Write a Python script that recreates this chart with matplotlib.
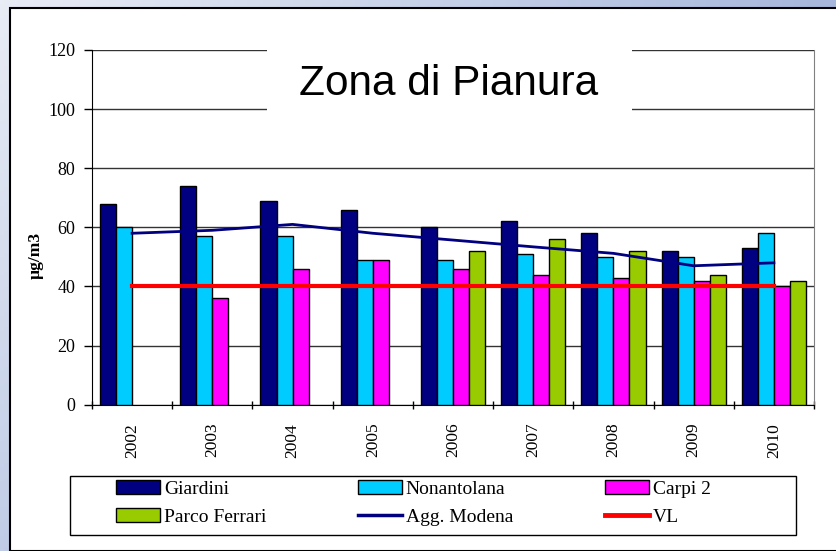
import numpy as np
import matplotlib
matplotlib.use("Agg")
import matplotlib.pyplot as plt
import matplotlib.patches as mpatches
from matplotlib.lines import Line2D

years = ["2002", "2003", "2004", "2005", "2006", "2007", "2008", "2009", "2010"]
giardini = [68, 74, 69, 66, 60, 62, 58, 52, 53]
nonantolana = [60, 57, 57, 49, 49, 51, 50, 50, 58]
carpi2 = [np.nan, 36, 46, 49, 46, 44, 43, 42, 40]
parco_ferrari = [np.nan, np.nan, np.nan, np.nan, 52, 56, 52, 44, 42]
agg_modena = [58, 59, 61, 58, 55.7, 53.4, 51.2, 47, 48]
vl = [40, 40, 40, 40, 40, 40, 40, 40, 40]

W, H = 836, 551
fig = plt.figure(figsize=(W / 100, H / 100), dpi=100)

# sfondo sfumato azzurro
bg = fig.add_axes([0, 0, 1, 1], zorder=-10)
gx, gy = np.meshgrid(np.linspace(0, 1, 200), np.linspace(0, 1, 150))
tl = np.array([232, 236, 245]); tr = np.array([166, 182, 220])
bl = np.array([192, 204, 230]); br = np.array([150, 166, 212])
img = ((1 - gx)[..., None] * ((1 - gy)[..., None] * tl + gy[..., None] * bl)
       + gx[..., None] * ((1 - gy)[..., None] * tr + gy[..., None] * br)) / 255.0
bg.imshow(img, aspect="auto", extent=[0, 1, 1, 0])
bg.set_xlim(0, 1); bg.set_ylim(1, 0)
bg.axis("off")
# pannello bianco
fig.patches.append(mpatches.Rectangle((10 / W, 0), 1, 1 - 8 / H, transform=fig.transFigure,
                                      facecolor="white", edgecolor="black", lw=1.5, zorder=-5))

ax = fig.add_axes([92 / W, (H - 404.7) / H, (814 - 92) / W, (404.7 - 50) / H])
ax.set_facecolor("none")
x = np.arange(len(years))
w = 0.2
series = [(giardini, "#000080", "Giardini"), (nonantolana, "#00ccff", "Nonantolana"),
          (carpi2, "#ff00ff", "Carpi 2"), (parco_ferrari, "#99cc00", "Parco Ferrari")]
for k, (vals, col, lab) in enumerate(series):
    ax.bar(x + (k - 1.5) * w, vals, w, color=col, edgecolor="black", lw=1, zorder=3, label=lab)

ax.plot(x, agg_modena, color="#000080", lw=2, zorder=4)
ax.plot(x, vl, color="#ff0000", lw=3, zorder=5)

ax.set_xlim(-0.5, len(years) - 0.5)
ax.set_ylim(0, 120)
ax.set_yticks(range(0, 121, 20))
ax.yaxis.grid(True, color="#333333", lw=1)
ax.set_axisbelow(True)
ax.set_xticks(x)
ax.set_xticklabels(years, rotation=90, fontfamily="Liberation Serif", fontsize=12.5)
ax.set_xticks(np.arange(-0.5, len(years)), minor=True)
ax.tick_params(axis="x", which="major", length=0, pad=13)
ax.tick_params(axis="x", which="minor", length=6, direction="inout", width=1)
ax.tick_params(axis="y", length=6, direction="out", width=1, pad=6)
for t in ax.get_yticklabels():
    t.set_fontfamily("Liberation Serif")
    t.set_fontsize(13)
ax.spines["top"].set_visible(False)
ax.spines["right"].set_color("#808080")
ax.spines["left"].set_color("black")
ax.spines["bottom"].set_color("black")

fig.text(36 / W, 1 - 255 / H, "µg/m3", rotation=90, ha="center", va="center",
         fontfamily="Liberation Serif", fontweight="bold", fontsize=12.5)

# titolo con riquadro bianco sopra la griglia
fig.patches.append(mpatches.Rectangle((267 / W, 1 - 113 / H), (632 - 267) / W, 73 / H,
                                      transform=fig.transFigure, facecolor="white",
                                      edgecolor="none", zorder=5))
fig.text(449 / W, 1 - 84 / H, "Zona di Pianura", ha="center", va="center",
         fontfamily="Liberation Sans", fontsize=30.5, zorder=6)

# riquadro legenda
fig.patches.append(mpatches.Rectangle((70 / W, 1 - 535 / H), (796 - 70) / W, (535 - 476) / H,
                                      transform=fig.transFigure, facecolor="white",
                                      edgecolor="black", lw=1, zorder=1))
handles = [
    mpatches.Patch(facecolor="#000080", edgecolor="black", label="Giardini"),
    mpatches.Patch(facecolor="#99cc00", edgecolor="black", label="Parco Ferrari"),
    mpatches.Patch(facecolor="#00ccff", edgecolor="black", label="Nonantolana"),
    Line2D([], [], color="#000080", lw=2.5, label="Agg. Modena"),
    mpatches.Patch(facecolor="#ff00ff", edgecolor="black", label="Carpi 2"),
    Line2D([], [], color="#ff0000", lw=3.5, label="VL"),
]
leg = fig.legend(handles=handles, ncol=3, loc="upper left",
                 bbox_to_anchor=(116 / W, 1 - 480 / H),
                 frameon=False, prop={"family": "Liberation Serif", "size": 14},
                 handlelength=2.27, handleheight=0.72, handletextpad=0.2,
                 labelspacing=0.55, borderpad=0, borderaxespad=0, columnspacing=4.7)

fig.savefig("out.png", dpi=100)
